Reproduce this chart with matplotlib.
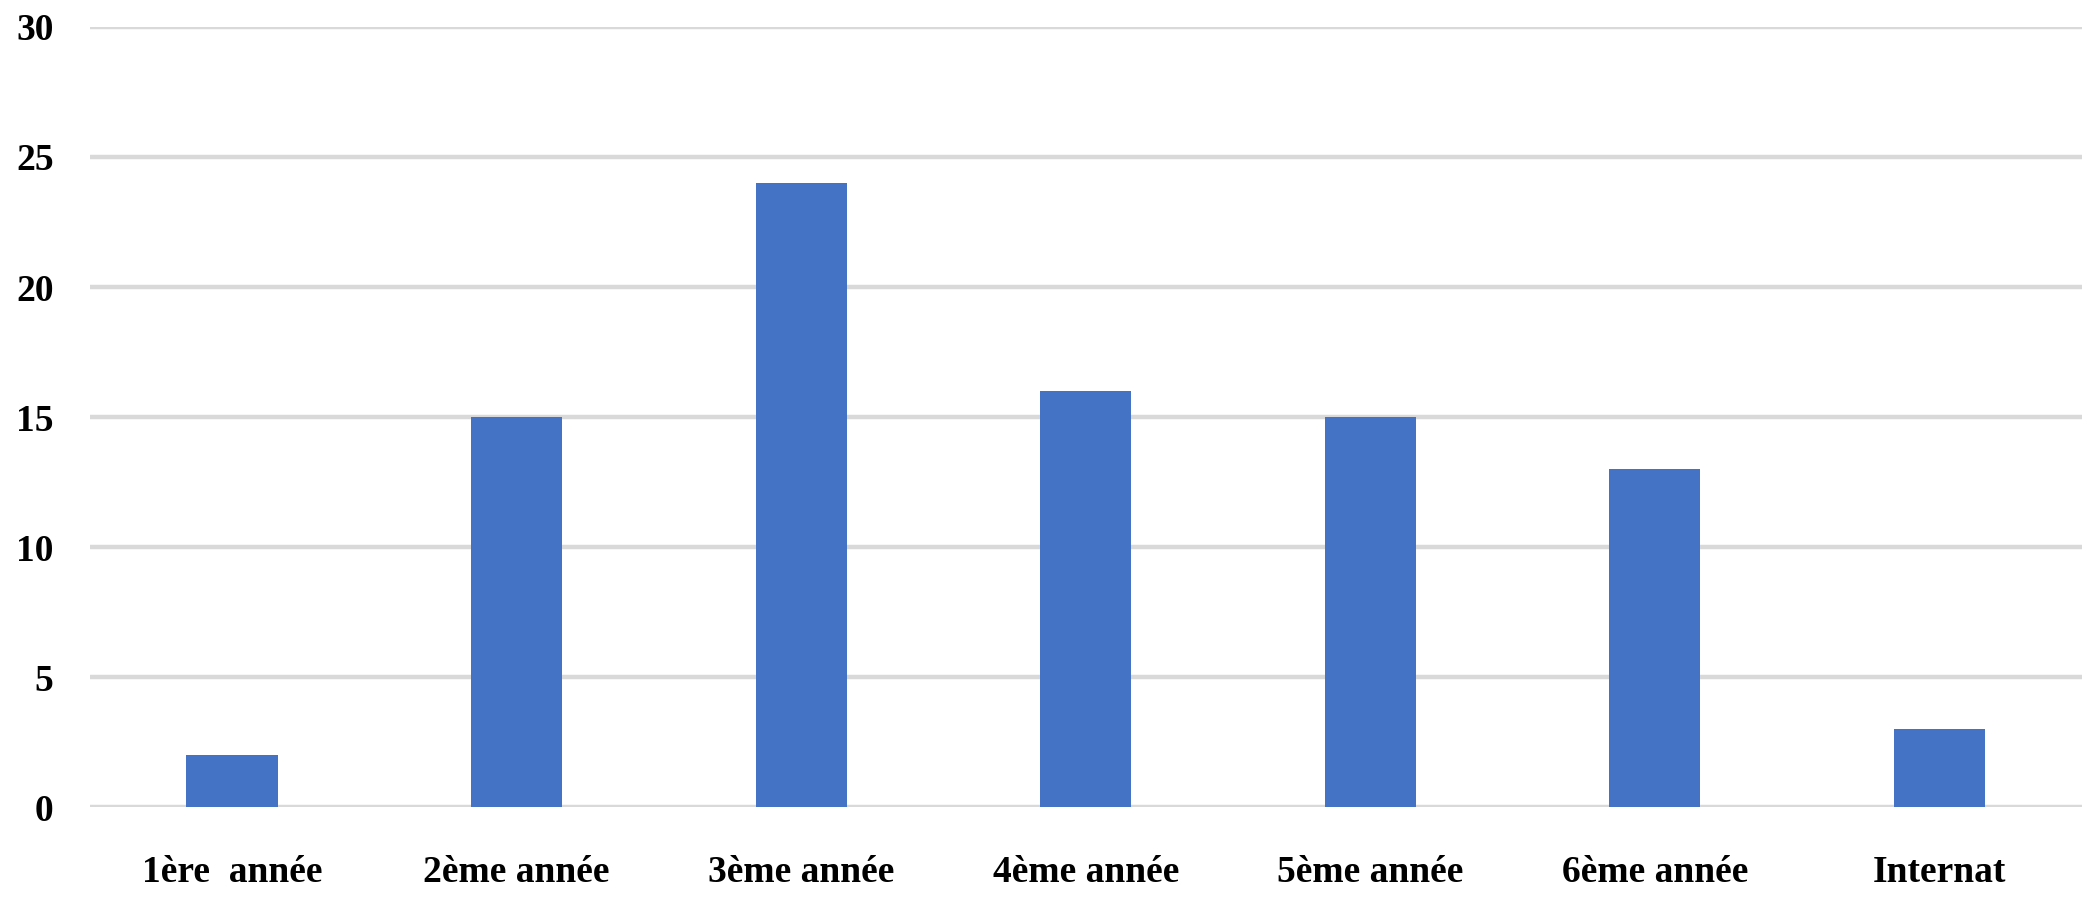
import matplotlib
matplotlib.use("Agg")
import matplotlib.pyplot as plt

categories = ["1ère  année", "2ème année", "3ème année", "4ème année",
              "5ème année", "6ème année", "Internat"]
values = [2, 15, 24, 16, 15, 13, 3]
yticks = [0, 5, 10, 15, 20, 25, 30]

fig = plt.figure(figsize=(20.86, 8.97), dpi=100)
ax = fig.add_axes([0.043, 0.1, 0.955, 0.87])

ax.bar(range(len(categories)), values, width=0.32, color="#4472C4", zorder=3)

ax.set_xlim(-0.5, len(categories) - 0.5)
ax.set_ylim(0, 30)
ax.set_yticks(yticks)
ax.set_xticks(range(len(categories)))
ax.set_xticklabels(categories)

# light horizontal gridlines only, no frame
ax.yaxis.grid(True, color="#d9d9d9", linewidth=3.2, zorder=0)
ax.set_axisbelow(True)
for s in ax.spines.values():
    s.set_visible(False)

ax.tick_params(axis="both", length=0)
ax.tick_params(axis="y", pad=26)
ax.tick_params(axis="x", pad=34)
for lbl in ax.get_xticklabels() + ax.get_yticklabels():
    lbl.set_fontfamily("Liberation Serif")
    lbl.set_fontweight("bold")
    lbl.set_fontsize(27)

fig.savefig("out.png", dpi=100)
